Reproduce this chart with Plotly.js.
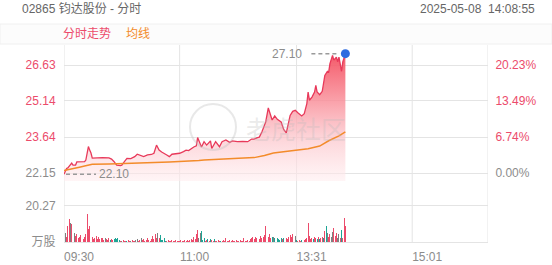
<!DOCTYPE html>
<html>
<head>
<meta charset="utf-8">
<script src="https://cdn.plot.ly/plotly-3.0.1.min.js"></script>
<style>
html,body{margin:0;padding:0;background:#fff;}
#chart{width:552px;height:265px;}
</style>
</head>
<body>
<div id="chart"></div>
<script>
// ---- data (minute index since 09:30, lunch removed) ----
const tickIdx = [0, 90, 181, 271];
const tickLabels = ['09:30', '11:00', '13:31', '15:01'];
const sessionEnd = 330;

const priceTicks = [22.15, 23.64, 25.14, 26.63];
const pctTicks = ['0.00%', '6.74%', '13.49%', '20.23%'];
const volTicks = [0, 20.27];
const volTickText = ['万股', '20.27'];

const priceIdx = [0,2,3,5,6,7,9,10,12,16,17,19,20,21,22,25,30,35,37,39,41,44,45,47,49,52,55,57,60,62,65,68,70,72,74,76,80,82,84,87,90,93,95,97,99,101,103,104,107,109,111,114,115,118,121,123,126,129,131,135,139,143,146,148,150,152,154,157,159,161,162,164,166,169,171,173,174,176,178,180,182,185,187,189,190,191,193,195,196,197,199,201,203,205,206,207,209,210,212,213,214,215,216,217,218,219];
const priceVal = [22.10,22.34,22.36,22.52,22.56,22.48,22.48,22.61,22.62,22.62,22.69,23.25,23.10,22.98,22.77,22.78,22.79,22.78,22.73,22.62,22.48,22.46,22.48,22.62,22.76,22.75,22.83,22.93,22.88,22.83,22.90,22.92,22.97,23.31,23.10,23.02,22.90,22.83,22.93,22.94,22.97,23.04,23.10,23.08,23.17,23.23,23.28,23.62,23.23,23.45,23.31,23.48,23.17,23.45,23.24,23.45,23.52,23.42,23.48,23.45,23.46,23.45,23.56,23.56,23.61,23.64,23.85,24.27,24.85,24.47,24.35,24.52,24.38,24.27,23.96,23.82,24.06,24.54,24.71,24.75,24.65,24.52,24.61,25.03,25.51,25.17,25.30,25.51,25.79,25.51,25.40,25.54,26.20,26.37,26.34,26.69,27.03,26.83,26.96,26.76,26.96,26.55,26.37,26.76,26.96,27.10];

const avgIdx = [0,5,12,16,22,35,49,74,82,105,109,136,148,156,163,174,182,190,199,206,214,219];
const avgVal = [22.25,22.32,22.39,22.44,22.51,22.52,22.54,22.59,22.61,22.67,22.69,22.76,22.79,22.88,22.98,23.05,23.09,23.16,23.27,23.49,23.69,23.86];

// volume per minute (万股), direction: 1 up, -1 down, 0 flat
const volVal = [
 29.5,5.2,3.0,8.9,12.6,10.7,9.8,8.9,5.2,3.3,
 4.3,2.0,2.8,3.7,2.4,1.8,3.0,4.3,15.7,7.0,
 8.9,2.0,2.8,1.5,2.2,3.3,1.8,2.8,1.4,2.0,
 2.5,1.2,2.0,1.5,1.0,2.0,1.2,1.6,1.0,1.8,
 2.2,1.5,2.4,1.2,0.8,0.6,1.0,0.5,0.8,0.6,
 1.0,0.7,0.5,1.2,0.8,0.6,1.2,1.5,0.8,1.0,
 2.0,1.2,1.8,0.8,1.0,2.0,1.2,0.6,1.5,3.3,
 1.4,4.3,2.2,4.8,2.0,3.7,1.2,1.0,2.0,0.8,
 0.6,1.0,0.5,0.8,1.2,0.5,0.7,1.0,0.6,0.8,
 0.5,1.2,0.8,0.6,1.0,0.7,1.2,0.5,0.9,1.4,
 1.0,2.6,1.5,4.3,6.5,2.0,5.2,6.1,1.2,2.0,
 0.6,1.0,1.5,0.8,1.8,1.0,0.5,1.6,0.8,0.6,
 1.0,0.5,0.8,0.6,1.2,0.7,2.4,0.8,0.5,1.0,
 0.6,0.9,0.5,0.8,1.0,0.6,0.8,1.2,0.5,0.7,
 2.0,0.8,0.6,1.0,0.8,1.5,2.2,2.6,1.8,3.0,
 2.4,2.8,1.6,3.3,2.2,2.6,3.9,8.9,5.2,3.0,
 4.3,2.4,3.0,2.6,2.2,1.8,2.4,1.5,1.2,2.4,
 1.8,2.2,1.5,2.4,1.6,2.8,3.9,2.6,4.3,2.2,
 3.5,1.0,0.8,1.2,0.6,1.0,0.8,1.2,1.5,2.0,
 10.7,3.3,1.5,2.4,1.8,2.8,2.2,1.6,2.6,1.8,
 2.4,3.0,2.0,6.1,8.9,5.2,2.8,4.3,3.0,5.5,
 7.9,3.3,5.2,2.4,4.3,2.0,6.5,2.4,13.1,8.9
];
const volDir = [
 -1,0,1,1,1,0,1,-1,0,1,
 1,1,1,1,1,1,1,1,1,1,
 1,0,1,1,1,1,1,1,1,1,
 1,1,0,1,1,1,-1,1,1,-1,
 -1,-1,-1,-1,1,0,1,1,1,-1,
 1,1,0,1,1,1,0,0,1,1,
 0,1,1,1,1,1,1,1,1,1,
 1,1,1,0,1,-1,-1,-1,-1,-1,
 1,1,1,1,1,1,1,1,1,1,
 1,1,1,1,1,1,1,1,1,1,
 1,1,1,1,1,0,0,-1,-1,-1,
 1,1,-1,1,-1,1,1,-1,1,1,
 1,1,-1,1,1,1,1,1,1,1,
 1,1,1,1,1,1,1,1,1,1,
 1,1,1,1,1,1,1,1,1,1,
 1,1,1,1,1,1,1,1,1,1,
 1,1,-1,0,-1,-1,-1,-1,-1,-1,
 1,-1,-1,1,1,1,1,1,1,0,
 0,-1,1,1,1,-1,1,1,1,1,
 1,1,1,1,-1,1,1,-1,1,-1,
 1,1,-1,1,-1,0,1,1,0,0,
 1,1,1,0,0,1,-1,1,1,1
];

// ---- style ----
const RED = '#ec4b6b', LINE_RED = '#e8395a', ORANGE = '#f38b2a', TEAL = '#1ea596', GRAY_BAR = '#7f7f7f';
const GRAY_TXT = '#8c8c8c', GRID = '#e4e4e4';
const FONT = 'Liberation Sans, Arial, Noto Sans CJK SC, sans-serif';

const W = 552, H = 265, L = 64, R = 64, T = 0, B = 23;
const plotH = H - T - B, plotW = W - L - R;
const py = p => (H - B - p) / plotH;   // pixel y -> paper
const px = p => (p - L) / plotW;       // pixel x -> paper

const priceDom = [py(181), py(45)];
const volDom = [0, py(188.5)];
const priceRange = [21.82, 27.46];
const volRange = [0, 29.7];

const lowVal = Math.min(...priceVal), lowIdx = priceIdx[priceVal.indexOf(lowVal)];
const highVal = Math.max(...priceVal), highIdx = priceIdx[priceVal.indexOf(highVal)];
const lastIdx = priceIdx[priceIdx.length - 1], lastVal = priceVal[priceVal.length - 1];

const colorOf = d => d > 0 ? RED : (d < 0 ? TEAL : GRAY_BAR);
const colorSpan = (t, c) => '<span style="color:' + c + '">' + t + '</span>';

const traces = [
  {
    x: priceIdx, y: priceVal, xaxis: 'x', yaxis: 'y', type: 'scatter', mode: 'lines',
    line: {color: LINE_RED, width: 1.3}, fill: 'tozeroy',
    fillgradient: {type: 'vertical', start: priceRange[0], stop: highVal,
      colorscale: [[0, 'rgba(255,236,238,0.55)'], [0.35, 'rgba(252,196,202,0.75)'], [0.7, 'rgba(248,128,140,0.85)'], [1, 'rgba(243,80,96,0.95)']]},
    hoverinfo: 'skip', showlegend: false
  },
  {
    x: avgIdx, y: avgVal, xaxis: 'x', yaxis: 'y', type: 'scatter', mode: 'lines',
    line: {color: ORANGE, width: 1.5}, hoverinfo: 'skip', showlegend: false
  },
  {
    x: [lastIdx], y: [lastVal], xaxis: 'x', yaxis: 'y', type: 'scatter', mode: 'markers',
    marker: {color: '#2f6ce0', size: 9}, hoverinfo: 'skip', showlegend: false
  },
  {
    x: [priceRange[0]], y: [priceRange[0]], xaxis: 'x', yaxis: 'y2', type: 'scatter', mode: 'markers',
    marker: {opacity: 0}, hoverinfo: 'skip', showlegend: false
  },
  {
    x: volVal.map((_, i) => i), y: volVal, xaxis: 'x', yaxis: 'y3', type: 'bar',
    marker: {color: volDir.map(colorOf), line: {width: 0}}, width: 0.75,
    hoverinfo: 'skip', showlegend: false
  }
];

const leftText = priceTicks.map((v, i) => colorSpan(v.toFixed(2), i === 0 ? GRAY_TXT : RED));
const rightText = pctTicks.map((t, i) => colorSpan(t, i === 0 ? GRAY_TXT : RED));

const shapes = [
  // header band
  {type: 'rect', xref: 'paper', yref: 'paper', x0: px(0), x1: px(W), y0: py(44), y1: py(24),
   fillcolor: '#fcfcfc', line: {color: '#f0f0f0', width: 1}, layer: 'below'},
  // low marker dashed line
  {type: 'line', xref: 'x', yref: 'y', xsizemode: 'pixel', xanchor: lowIdx, x0: 2, x1: 32,
   y0: lowVal, y1: lowVal, line: {color: '#9a9a9a', width: 1.5, dash: '4px,3px'}},
  // high marker dashed line
  {type: 'line', xref: 'x', yref: 'y', xsizemode: 'pixel', xanchor: highIdx, x0: -34, x1: -6,
   y0: highVal, y1: highVal, line: {color: '#9a9a9a', width: 1.5, dash: '4px,3px'}},
  // watermark circle
  {type: 'circle', xref: 'paper', yref: 'paper', x0: px(190), x1: px(236), y0: py(150), y1: py(104),
   line: {color: 'rgba(190,190,190,0.35)', width: 2}, layer: 'above'}
];
tickIdx.concat([sessionEnd]).forEach(t => {
  shapes.push({type: 'line', xref: 'x', yref: 'paper', x0: t, x1: t, y0: 0, y1: priceDom[1],
    line: {color: GRID, width: 1}, layer: 'below'});
});

const annotations = [
  {xref: 'paper', yref: 'paper', x: px(20), y: py(9), xanchor: 'left', yanchor: 'middle', showarrow: false,
   text: '02865 钧达股份 - 分时', font: {family: FONT, size: 12, color: '#666'}},
  {xref: 'paper', yref: 'paper', x: px(537), y: py(9), xanchor: 'right', yanchor: 'middle', showarrow: false,
   text: '2025-05-08\u00a0\u00a014:08:55', font: {family: FONT, size: 12, color: '#666'}},
  {xref: 'paper', yref: 'paper', x: px(61), y: py(34), xanchor: 'left', yanchor: 'middle', showarrow: false,
   text: '分时走势', font: {family: FONT, size: 12, color: RED}},
  {xref: 'paper', yref: 'paper', x: px(124), y: py(34), xanchor: 'left', yanchor: 'middle', showarrow: false,
   text: '均线', font: {family: FONT, size: 12, color: ORANGE}},
  {xref: 'x', yref: 'y', x: lowIdx, y: lowVal, xanchor: 'left', yanchor: 'middle', xshift: 33, showarrow: false,
   text: lowVal.toFixed(2), font: {family: FONT, size: 12, color: GRAY_TXT}},
  {xref: 'x', yref: 'y', x: highIdx, y: highVal, xanchor: 'right', yanchor: 'middle', xshift: -41, showarrow: false,
   text: highVal.toFixed(2), font: {family: FONT, size: 12, color: GRAY_TXT}},
  {xref: 'paper', yref: 'paper', x: px(296), y: py(128), xanchor: 'center', yanchor: 'middle', showarrow: false,
   text: '老虎社区', font: {family: 'Noto Sans CJK SC, sans-serif', size: 25, color: 'rgba(185,185,185,0.3)'}}
];

const layout = {
  width: W, height: H, margin: {l: L, r: R, t: T, b: B, pad: 0},
  paper_bgcolor: '#fff', plot_bgcolor: 'rgba(0,0,0,0)',
  font: {family: FONT, size: 12, color: GRAY_TXT},
  showlegend: false, bargap: 0,
  xaxis: {anchor: 'y3', range: [0, sessionEnd], tickmode: 'array', tickvals: tickIdx, ticktext: tickLabels,
    showgrid: false, zeroline: false, showline: true, linecolor: GRID, linewidth: 1,
    ticks: 'outside', ticklen: 4, tickcolor: 'rgba(0,0,0,0)', ticklabelshift: 15,
    tickfont: {family: FONT, size: 12, color: GRAY_TXT}, fixedrange: true},
  yaxis: {domain: priceDom, range: priceRange, tickmode: 'array', tickvals: priceTicks, ticktext: leftText,
    showgrid: true, gridcolor: GRID, gridwidth: 1, zeroline: false, showline: false,
    ticks: 'outside', ticklen: 5, tickcolor: 'rgba(0,0,0,0)', tickfont: {family: FONT, size: 12}, fixedrange: true},
  yaxis2: {overlaying: 'y', side: 'right', range: priceRange, tickmode: 'array', tickvals: priceTicks, ticktext: rightText,
    showgrid: false, zeroline: false, showline: false,
    ticks: 'outside', ticklen: 4, tickcolor: 'rgba(0,0,0,0)', tickfont: {family: FONT, size: 12}, fixedrange: true},
  yaxis3: {domain: volDom, range: volRange, tickmode: 'array', tickvals: volTicks, ticktext: volTickText,
    showgrid: true, gridcolor: GRID, gridwidth: 1, zeroline: false, showline: false,
    ticks: 'outside', ticklen: 5, tickcolor: 'rgba(0,0,0,0)',
    tickfont: {family: FONT, size: 12, color: GRAY_TXT}, fixedrange: true},
  shapes: shapes,
  annotations: annotations
};

Plotly.newPlot('chart', traces, layout, {staticPlot: true, displayModeBar: false});
</script>
</body>
</html>
